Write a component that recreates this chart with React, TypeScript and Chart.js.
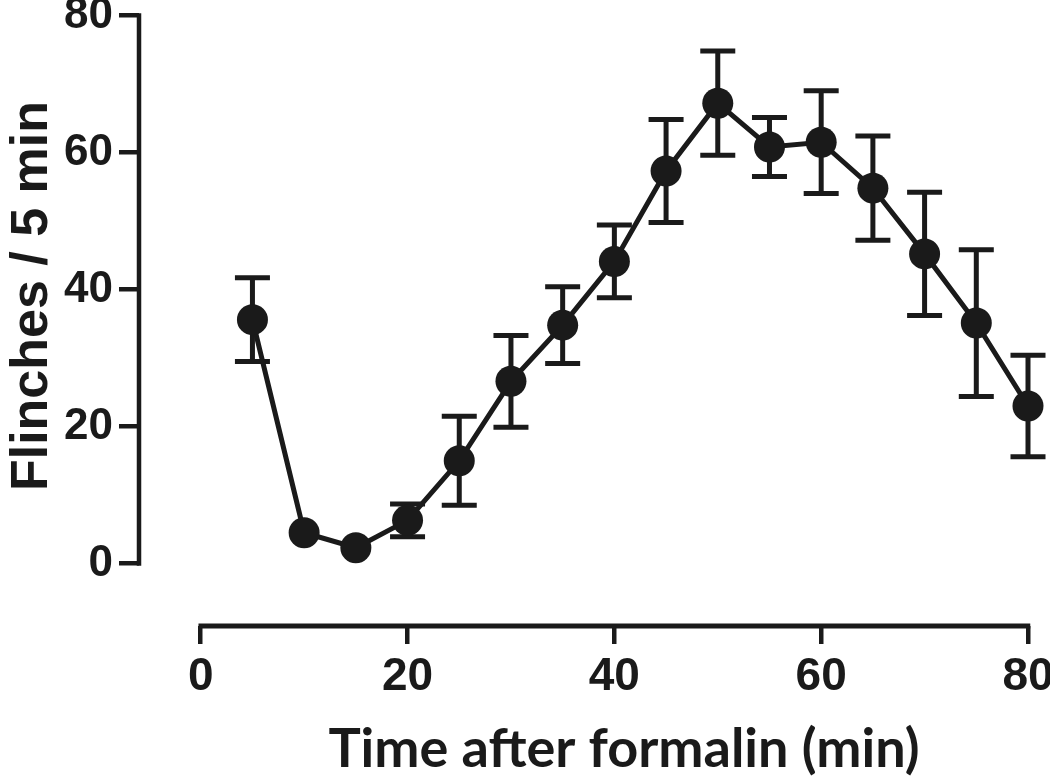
import React, { useEffect, useRef } from 'react';
import { Chart, registerables } from 'chart.js';

Chart.register(...registerables);

// ---- data ----
const times = [5, 10, 15, 20, 25, 30, 35, 40, 45, 50, 55, 60, 65, 70, 75, 80];
const flinches = [35.6, 4.5, 2.3, 6.3, 15.0, 26.6, 34.8, 44.1, 57.3, 67.2, 60.8, 61.5, 54.8, 45.2, 35.1, 23.0];
const sem = [6.1, 0, 0, 2.4, 6.5, 6.7, 5.6, 5.3, 7.5, 7.6, 4.3, 7.5, 7.6, 9.0, 10.7, 7.4];
const xTicks = [0, 20, 40, 60, 80];
const yTicks = [0, 20, 40, 60, 80];
const xTitle = 'Time after formalin (min)';
const yTitle = 'Flinches / 5 min';

const INK = '#1a1a1a';

const customPlugin = {
  id: 'prismStyle',
  beforeDatasetsDraw(chart: any) {
    const { ctx, scales } = chart;
    const x = scales.x;
    const y = scales.y;
    ctx.save();
    ctx.strokeStyle = INK;
    ctx.lineWidth = 5;
    ctx.lineCap = 'butt';
    const capHalf = 17.5;
    times.forEach((t, i) => {
      if (!sem[i]) return;
      const px = x.getPixelForValue(t);
      const top = y.getPixelForValue(flinches[i] + sem[i]);
      const bot = y.getPixelForValue(flinches[i] - sem[i]);
      ctx.beginPath();
      ctx.moveTo(px, top);
      ctx.lineTo(px, bot);
      ctx.moveTo(px - capHalf, top);
      ctx.lineTo(px + capHalf, top);
      ctx.moveTo(px - capHalf, bot);
      ctx.lineTo(px + capHalf, bot);
      ctx.stroke();
    });
    ctx.restore();
  },
  afterDraw(chart: any) {
    const { ctx, scales, chartArea } = chart;
    const x = scales.x;
    const y = scales.y;
    ctx.save();
    ctx.strokeStyle = INK;
    ctx.lineWidth = 5;
    // x axis line (offset below the plot, from 0 to 80)
    const xy = chartArea.bottom;
    ctx.beginPath();
    ctx.moveTo(x.getPixelForValue(xTicks[0]) - 2.25, xy);
    ctx.lineTo(x.getPixelForValue(xTicks[xTicks.length - 1]) + 2.25, xy);
    ctx.stroke();
    // y axis line (from 0 to 80)
    const yx = chartArea.left;
    ctx.lineWidth = 4.5;
    ctx.beginPath();
    ctx.moveTo(yx, y.getPixelForValue(yTicks[0]) + 2.25);
    ctx.lineTo(yx, y.getPixelForValue(yTicks[yTicks.length - 1]) - 2.25);
    ctx.stroke();

    // axis titles
    ctx.fillStyle = INK;
    ctx.textAlign = 'center';
    ctx.textBaseline = 'alphabetic';
    ctx.font = 'bold 54px Lato, "Open Sans", sans-serif';
    ctx.fillText(xTitle, 624, 767);

    ctx.translate(47, 296);
    ctx.rotate(-Math.PI / 2);
    ctx.font = 'bold 52px "Liberation Sans", Arial, sans-serif';
    ctx.fillText(yTitle, 0, 0);
    ctx.restore();
  },
};

export default function App() {
  const canvasRef = useRef<HTMLCanvasElement | null>(null);

  useEffect(() => {
    if (!canvasRef.current) return;
    const chart = new Chart(canvasRef.current, {
      type: 'line',
      data: {
        datasets: [
          {
            label: 'Flinches',
            data: times.map((t, i) => ({ x: t, y: flinches[i] })),
            borderColor: INK,
            backgroundColor: INK,
            borderWidth: 5,
            pointRadius: 15.5,
            pointBorderWidth: 0,
            pointBackgroundColor: INK,
            pointHoverRadius: 15.5,
            tension: 0,
            clip: false as any,
          },
        ],
      },
      options: {
        animation: false,
        responsive: true,
        maintainAspectRatio: false,
        events: [],
        layout: { padding: { top: 15.5, right: 22, bottom: 0, left: 0 } },
        plugins: {
          legend: { display: false },
          tooltip: { enabled: false },
          title: { display: false },
        },
        scales: {
          x: {
            type: 'linear',
            min: -5.97,
            max: 80,
            afterBuildTicks: (scale: any) => {
              scale.ticks = xTicks.map((v) => ({ value: v }));
            },
            afterFit: (scale: any) => {
              scale.height = 153;
              scale.paddingLeft = 0;
              scale.paddingRight = 0;
            },
            border: { display: false },
            grid: {
              display: true,
              drawOnChartArea: false,
              drawTicks: true,
              tickLength: 18,
              lineWidth: 4.5,
              color: INK,
            },
            ticks: {
              color: INK,
              padding: 10,
              maxRotation: 0,
              autoSkip: false,
              font: { family: '"Liberation Sans", Arial, sans-serif', weight: 'bold', size: 46, lineHeight: 1 },
            },
          },
          y: {
            type: 'linear',
            min: -9.12,
            max: 80,
            afterBuildTicks: (scale: any) => {
              scale.ticks = yTicks.map((v) => ({ value: v }));
            },
            afterFit: (scale: any) => {
              scale.width = 139;
              scale.paddingTop = 0;
              scale.paddingBottom = 0;
            },
            border: { display: false },
            grid: {
              display: true,
              drawOnChartArea: false,
              drawTicks: true,
              tickLength: 20,
              lineWidth: 4.5,
              color: INK,
            },
            ticks: {
              color: INK,
              padding: 6,
              autoSkip: false,
              font: { family: '"Liberation Sans", Arial, sans-serif', weight: 'bold', size: 44, lineHeight: 1 },
            },
          },
        },
      },
      plugins: [customPlugin],
    });
    return () => chart.destroy();
  }, []);

  return (
    <div style={{ position: 'absolute', left: 0, top: 0, width: 1050, height: 779, background: '#fff' }}>
      <canvas ref={canvasRef} />
    </div>
  );
}
